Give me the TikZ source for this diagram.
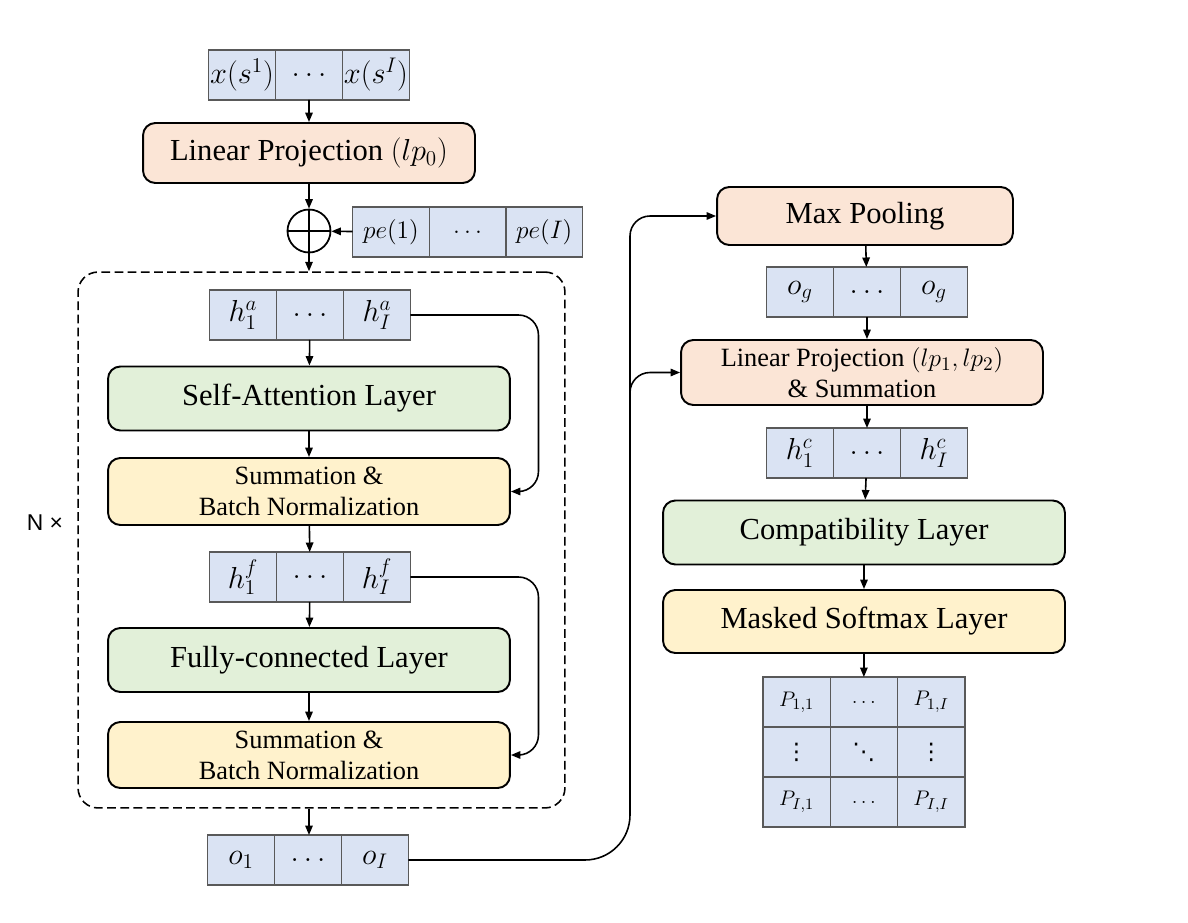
\documentclass[tikz,border=0pt]{standalone}
\usepackage{fontspec}
\setmainfont{Liberation Serif}
\setsansfont{Liberation Sans}
\newfontfamily\dotfont{DejaVu Sans}
\usetikzlibrary{arrows.meta, positioning, calc}
\definecolor{cellblue}{HTML}{DAE3F3}
\definecolor{projorange}{HTML}{FBE5D6}
\definecolor{layergreen}{HTML}{E2F0D9}
\definecolor{normyellow}{HTML}{FFF2CC}

\begin{document}
\begin{tikzpicture}[x=0.02cm, y=-0.02cm,
  cell/.style={rectangle, draw=black!65, line width=0.8pt, fill=cellblue, minimum width=1.34cm, minimum height=1cm, inner sep=0pt, outer sep=0pt, font=\fontsize{17}{20}\selectfont},
  wcell/.style={cell, minimum width=1.533cm, font=\fontsize{15}{18}\selectfont},
  mcell/.style={cell, minimum width=1.346cm, font=\fontsize{13}{15}\selectfont},
  dcell/.style={mcell, font=\dotfont\fontsize{13}{15}\selectfont},
  block/.style={rectangle, draw, line width=1.1pt, rounded corners=7pt, align=center, minimum width=8.04cm, minimum height=1.28cm, font=\fontsize{17.4}{20}\selectfont},
  proj/.style={block, fill=projorange},
  attn/.style={block, fill=layergreen},
  norm/.style={block, fill=normyellow, font=\fontsize{15}{17.5}\selectfont},
  arrow/.style={-{Triangle[length=1.9mm, width=1.5mm]}, line width=0.9pt}
]
\useasboundingbox (0,0) rectangle (1188,923);

% encoder column
\node[cell] (x1) at (242,75) {$x(s^1)$};
\node[cell, right=0pt of x1] (x2) {$\ldots$};
\node[cell, right=0pt of x2] (x3) {$x(s^I)$};

\node[proj, minimum width=6.64cm, minimum height=1.2cm] (lp0) at (309,153) {Linear Projection $(lp_0)$};

\node[circle, draw, line width=1pt, minimum size=0.86cm, inner sep=0pt] (add) at (309,231) {};
\draw[line width=0.8pt] (add.north) -- (add.south) (add.west) -- (add.east);

\node[wcell] (pe1) at (391,232) {$pe(1)$};
\node[wcell, right=0pt of pe1] (pe2) {$\ldots$};
\node[wcell, right=0pt of pe2] (pe3) {$pe(I)$};

\node[draw, dashed, dash pattern=on 5pt off 2.5pt, line width=0.9pt, rounded corners=0.4cm, minimum width=9.74cm, minimum height=10.72cm] (rep) at (321.5,540) {};
\node[font=\sffamily\fontsize{13}{15}\selectfont] (nx) at (45,523) {N ×};

\node[cell] (ha1) at (243,315) {$h_1^a$};
\node[cell, right=0pt of ha1] (ha2) {$\ldots$};
\node[cell, right=0pt of ha2] (ha3) {$h_I^a$};

\node[attn] (sa) at (309,398.5) {Self-Attention Layer};
\node[norm, minimum height=1.34cm] (sb1) at (309,491.5) {Summation \&\\Batch Normalization};

\node[cell] (hf1) at (243,577) {$h_1^f$};
\node[cell, right=0pt of hf1] (hf2) {$\ldots$};
\node[cell, right=0pt of hf2] (hf3) {$h_I^f$};

\node[attn] (fc) at (309,660) {Fully-connected Layer};
\node[norm, minimum height=1.32cm] (sb2) at (309,755) {Summation \&\\Batch Normalization};

\node[cell] (o1) at (241,860) {$o_1$};
\node[cell, right=0pt of o1] (o2) {$\ldots$};
\node[cell, right=0pt of o2] (o3) {$o_I$};

% decoder column
\node[proj, minimum width=5.92cm, minimum height=1.16cm] (mp) at (865,216) {Max Pooling};

\node[cell] (og1) at (800,292) {$o_g$};
\node[cell, right=0pt of og1] (og2) {$\ldots$};
\node[cell, right=0pt of og2] (og3) {$o_g$};

\node[proj, minimum width=7.24cm, minimum height=1.3cm, font=\fontsize{15}{17.5}\selectfont] (lp1) at (862,372.5) {Linear Projection $(lp_1, lp_2)$\\\& Summation};

\node[cell] (hc1) at (800,453) {$h_1^c$};
\node[cell, right=0pt of hc1] (hc2) {$\ldots$};
\node[cell, right=0pt of hc2] (hc3) {$h_I^c$};

\node[attn] (cl) at (864,532.5) {Compatibility Layer};
\node[norm, minimum height=1.26cm, font=\fontsize{17.4}{20}\selectfont] (ms) at (864,621.5) {Masked Softmax Layer};

\node[mcell] (p11) at (796.6,702) {$P_{1,1}$};
\node[mcell, right=0pt of p11] (p12) {$\ldots$};
\node[mcell, right=0pt of p12] (p13) {$P_{1,I}$};
\node[dcell, below=0pt of p11] (p21) {⋮};
\node[dcell, right=0pt of p21] (p22) {⋱};
\node[dcell, right=0pt of p22] (p23) {⋮};
\node[mcell, below=0pt of p21] (p31) {$P_{I,1}$};
\node[mcell, right=0pt of p31] (p32) {$\ldots$};
\node[mcell, right=0pt of p32] (p33) {$P_{I,I}$};

% main flow
\draw[arrow] (x2) -- (lp0);
\draw[arrow] (lp0) -- (add);
\draw[arrow] (pe1) -- (add);
\draw[arrow] (add) -- (add |- rep.north);
\draw[arrow] (ha2) -- (sa);
\draw[arrow] (sa) -- (sb1);
\draw[arrow] (sb1) -- (hf2);
\draw[arrow] (hf2) -- (fc);
\draw[arrow] (fc) -- (sb2);
\draw[arrow] (add |- rep.south) -- (add |- o2.north);

% residual links
\draw[arrow, rounded corners=0.4cm] (ha3.east) -- ++(128,0) |- (sb1.east);
\draw[arrow, rounded corners=0.4cm] (hf3.east) -- ++(128,0) |- (sb2.east);

% encoder output to decoder
\coordinate (bus) at (630,420);
\draw[arrow, rounded corners=0.9cm] (o3.east) -| (bus) [rounded corners=0.4cm] |- (mp.west);
\draw[arrow, rounded corners=0.4cm] (bus) |- (lp1.west);

\draw[arrow] (mp) -- (og2);
\draw[arrow] (og2) -- (lp1.north -| og2.south);
\draw[arrow] (lp1.south -| hc2.north) -- (hc2);
\draw[arrow] (hc2) -- (cl);
\draw[arrow] (cl) -- (ms);
\draw[arrow] (ms.south -| p12.north) -- (p12);
\end{tikzpicture}
\end{document}
